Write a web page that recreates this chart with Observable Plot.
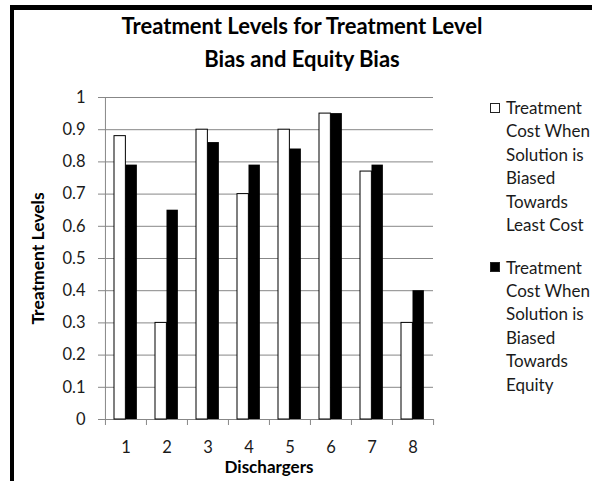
<!DOCTYPE html>
<html>
<head>
<meta charset="utf-8">
<script src="https://cdn.jsdelivr.net/npm/d3@7"></script>
<script src="https://cdn.jsdelivr.net/npm/@observablehq/plot@0.6"></script>
<style>
  html, body { margin: 0; padding: 0; background: #fff; }
  #wrap { position: relative; width: 592px; height: 481px; overflow: hidden; background: #fff; font-family: Lato, "Open Sans", sans-serif; }
  #frame { position: absolute; left: 10px; top: 5px; width: 700px; height: 600px; border-left: 4px solid #000; border-top: 5px solid #000; box-sizing: border-box; pointer-events: none; }
  #chart { position: absolute; left: 0; top: 0; }
  .legend-item { position: absolute; left: 490px; }
  .swatch { position: absolute; left: 0; width: 10px; height: 10px; box-sizing: border-box; border: 1px solid #222; }
  .lines { position: absolute; left: 16px; top: 0; font-size: 17px; line-height: 23.4px; color: #1a1a1a; white-space: nowrap; }
</style>
</head>
<body>
<div id="wrap">
  <div id="chart"></div>
  <div id="legend"></div>
  <div id="frame"></div>
</div>
<script>
const categories = ["1", "2", "3", "4", "5", "6", "7", "8"];
const leastCostValues = [0.88, 0.30, 0.90, 0.70, 0.90, 0.95, 0.77, 0.30];
const equityValues = [0.79, 0.65, 0.86, 0.79, 0.84, 0.95, 0.79, 0.40];
const yTicks = [0, 0.1, 0.2, 0.3, 0.4, 0.5, 0.6, 0.7, 0.8, 0.9, 1];
const yTickLabels = ["0", "0.1", "0.2", "0.3", "0.4", "0.5", "0.6", "0.7", "0.8", "0.9", "1"];
const seriesNames = [
  "Treatment Cost When Solution is Biased Towards Least Cost",
  "Treatment Cost When Solution is Biased Towards Equity"
];
const legendLines = [
  ["Treatment", "Cost When", "Solution is", "Biased", "Towards", "Least Cost"],
  ["Treatment", "Cost When", "Solution is", "Biased", "Towards", "Equity"]
];
const seriesFills = ["#ffffff", "#000000"];
const chartTitle = "Treatment Levels for Treatment Level\nBias and Equity Bias";
const xTitle = "Dischargers";
const yTitle = "Treatment Levels";

const W = 592, H = 481;
const mL = 104, mR = 159, mT = 97, mB = 62;
const bw = (W - mL - mR) / categories.length;
const barW = 11.5, pad = 9;
const gridColor = "#878787";

const leastCost = categories.map((c, i) => ({discharger: c, value: leastCostValues[i], series: seriesNames[0]}));
const equity = categories.map((c, i) => ({discharger: c, value: equityValues[i], series: seriesNames[1]}));

const chart = Plot.plot({
  width: W,
  height: H,
  marginLeft: mL,
  marginRight: mR,
  marginTop: mT,
  marginBottom: mB,
  style: {fontFamily: "Lato, 'Open Sans', sans-serif", fontSize: "16.5px", background: "transparent", color: "#1a1a1a"},
  x: {type: "band", domain: categories, padding: 0},
  y: {domain: [0, 1]},
  marks: [
    Plot.gridY(yTicks, {stroke: gridColor, strokeOpacity: 1}),
    Plot.ruleX([categories[0]], {x: d => d, dx: -bw / 2, y1: 1, y2: 0, insetBottom: -6, stroke: gridColor}),
    Plot.ruleX(categories.slice(1), {x: d => d, dx: -bw / 2, y1: 0, y2: 0, insetBottom: -6, stroke: gridColor}),
    Plot.ruleX([categories[categories.length - 1]], {x: d => d, dx: bw / 2, y1: 0, y2: 0, insetBottom: -6, stroke: gridColor}),
    Plot.barY(leastCost, {x: "discharger", y: "value", fill: seriesFills[0], stroke: "#000", strokeWidth: 1,
      insetLeft: pad, insetRight: bw - pad - barW}),
    Plot.barY(equity, {x: "discharger", y: "value", fill: seriesFills[1],
      insetLeft: pad + barW, insetRight: bw - pad - 2 * barW}),
    Plot.axisY(yTicks, {tickSize: 6, tickPadding: 13, stroke: gridColor, fill: "#1a1a1a", fontSize: 16.5,
      tickFormat: d => yTickLabels[yTicks.indexOf(d)], label: null}),
    Plot.axisX({tickSize: 0, tickPadding: 22, fill: "#1a1a1a", fontSize: 16.5, label: null}),
    Plot.text([xTitle], {text: d => d, frameAnchor: "bottom", dy: 48, lineAnchor: "middle",
      fontWeight: "bold", fontSize: 17, fill: "#000"}),
    Plot.text([yTitle], {text: d => d, frameAnchor: "left", dx: -66, rotate: -90, textAnchor: "middle",
      lineAnchor: "middle", fontWeight: "bold", fontSize: 17.5, fill: "#000"}),
    Plot.text([chartTitle], {text: d => d, frameAnchor: "top", dx: 33, dy: -58, textAnchor: "middle",
      lineAnchor: "middle", lineHeight: 1.5, fontWeight: "bold", fontSize: 22, fill: "#000"})
  ]
});
document.getElementById("chart").appendChild(chart);

const legend = document.getElementById("legend");
const itemTops = [96, 255.5];
legendLines.forEach((lines, k) => {
  const item = document.createElement("div");
  item.className = "legend-item";
  item.style.top = itemTops[k] + "px";
  const sw = document.createElement("div");
  sw.className = "swatch";
  sw.style.top = "6.5px";
  sw.style.background = seriesFills[k];
  item.appendChild(sw);
  const txt = document.createElement("div");
  txt.className = "lines";
  txt.title = seriesNames[k];
  lines.forEach(l => {
    const d = document.createElement("div");
    d.textContent = l;
    txt.appendChild(d);
  });
  item.appendChild(txt);
  legend.appendChild(item);
});
</script>
</body>
</html>
